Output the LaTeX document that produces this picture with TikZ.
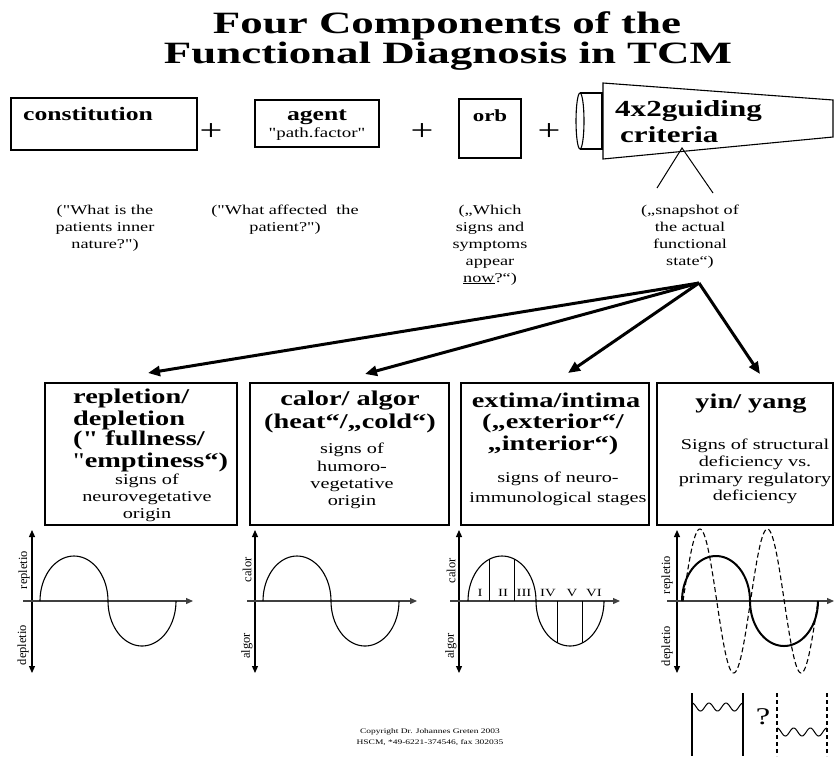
\documentclass[tikz,border=0pt]{standalone}
\usepackage{fontspec}
\setmainfont{Liberation Serif}[FakeStretch=1.35, Ligatures=TeXOff]
\newfontfamily\titlefont{Liberation Serif}[FakeStretch=1.45]
\newfontfamily\rotfont{Liberation Serif}
\usetikzlibrary{arrows.meta}
\newcommand{\fs}[2]{\fontsize{#1}{#2}\selectfont}
\newcommand{\semisine}[1]{plot[domain=0:180,samples=41] ({#1+34-34*cos(\x)},{601-45*sin(\x)}) -- plot[domain=0:180,samples=41] ({#1+68+34-34*cos(\x)},{601+45*sin(\x)})}
\begin{document}
\begin{tikzpicture}[x=1pt,y=-1pt,
  box/.style={draw, line width=1.2pt, inner sep=0pt},
  txt/.style={inner sep=0pt, anchor=base},
  hd/.style={txt, font=\bfseries\fs{21}{24}},
  bd/.style={txt, font=\fs{15}{17}},
  qt/.style={txt, font=\fs{13.5}{17}},
  plus/.style={inner sep=0pt, font=\fs{30}{30}},
  axisH/.style={line width=1.2pt, black!75, -{Triangle[length=7pt,width=6pt]}},
  axisV/.style={line width=1.2pt, {Triangle[length=7pt,width=6pt]}-{Triangle[length=7pt,width=6pt]}},
  wave/.style={line width=1.1pt},
  lab/.style={rotate=90, inner sep=0pt, font=\rotfont\fs{12.5}{12.5}},
  stage/.style={txt, font=\fs{11}{12}},
  bigarrow/.style={line width=3pt, -{Triangle[length=12pt,width=10pt]}}]
\useasboundingbox (0,0) rectangle (834,756);

% title
\node[txt, font=\titlefont\bfseries\fs{31}{31}] (t1) at (447,33) {Four Components of the};
\node[txt, font=\titlefont\bfseries\fs{31}{31}] (t2) at (448,63) {Functional Diagnosis in TCM};

% top row
\node[box, minimum width=186pt, minimum height=52pt] (const) at (104,124) {};
\node[txt, anchor=base west, font=\bfseries\fs{19}{22}] (constT) at (23,120) {constitution};
\node[plus] (p1) at (211,132) {+};
\node[box, minimum width=124pt, minimum height=47pt] (agent) at (317,123.5) {};
\node[txt, font=\bfseries\fs{19}{22}] (agentT) at (317,120) {agent};
\node[txt, font=\fs{14}{16}] (agentS) at (317,137) {"path.factor"};
\node[plus] (p2) at (422,132) {+};
\node[box, minimum width=62pt, minimum height=59pt] (orb) at (490,128.5) {};
\node[txt, font=\bfseries\fs{17}{20}] (orbT) at (490,121) {orb};
\node[plus] (p3) at (549,132) {+};

% cylinder + megaphone
\draw[line width=1.1pt] (580,121) ellipse [x radius=4pt, y radius=28pt];
\draw[line width=1.1pt] (580,93) -- (602,93) -- (602,149) -- (580,149);
\draw[line width=1.1pt] (603,83) -- (833,100) -- (833,137) -- (603,159) -- cycle;
\node[txt, anchor=base west, font=\bfseries\fs{23}{26}] (crit1) at (615,116) {4x2guiding};
\node[txt, anchor=base west, font=\bfseries\fs{23}{26}] (crit2) at (620,142) {criteria};
\coordinate (snapTop) at (682,148);
\coordinate (snapL) at (657,188);
\coordinate (snapR) at (713,193);
\draw[line width=1pt] (snapL) -- (snapTop) -- (snapR);

% questions
\node[qt] (q1a) at (105,214) {("What is the};
\node[qt] (q1b) at (105,231) {patients inner};
\node[qt] (q1c) at (105,248) {nature?")};
\node[qt] (q2a) at (285,214) {("What affected\ \ the};
\node[qt] (q2b) at (285,231) {patient?")};
\node[qt] (q3a) at (490,214) {(„Which};
\node[qt] (q3b) at (490,231) {signs and};
\node[qt] (q3c) at (490,248) {symptoms};
\node[qt] (q3d) at (490,265) {appear};
\node[qt] (q3e) at (490,282) {\underline{now}?“)};
\node[qt] (q4a) at (690,214) {(„snapshot of};
\node[qt] (q4b) at (690,231) {the actual};
\node[qt] (q4c) at (690,248) {functional};
\node[qt] (q4d) at (690,265) {state“)};

% arrows
\coordinate (hub) at (699,283);
\coordinate (a1) at (148,373);
\coordinate (a2) at (365,374);
\coordinate (a3) at (568,373);
\coordinate (a4) at (760,374);
\draw[bigarrow] (hub) -- (a1);
\draw[bigarrow] (hub) -- (a2);
\draw[bigarrow] (hub) -- (a3);
\draw[bigarrow] (hub) -- (a4);

% bottom boxes
\node[box, minimum width=192pt, minimum height=142pt] (b1) at (141,454) {};
\node[box, minimum width=199pt, minimum height=142pt] (b2) at (349.5,454) {};
\node[box, minimum width=188pt, minimum height=142pt] (b3) at (555,454) {};
\node[box, minimum width=176pt, minimum height=142pt] (b4) at (745,454) {};

\node[hd, anchor=base west] (b1a) at (73,403) {repletion/};
\node[hd, anchor=base west] (b1b) at (73,425) {depletion};
\node[hd, anchor=base west] (b1c) at (73,445) {(" fullness/};
\node[hd, anchor=base west] (b1d) at (73,467) {{\mdseries"}emptiness“)};
\node[bd] (b1e) at (147,484) {signs of};
\node[bd] (b1f) at (147,501) {neurovegetative};
\node[bd] (b1g) at (147,518) {origin};

\node[hd] (b2a) at (350,405) {calor/ algor};
\node[hd] (b2b) at (350,428) {(heat“/„cold“)};
\node[bd] (b2c) at (352,453) {signs of};
\node[bd] (b2d) at (352,471) {humoro-};
\node[bd] (b2e) at (352,488) {vegetative};
\node[bd] (b2f) at (352,505) {origin};

\node[hd] (b3a) at (556,407) {extima/intima};
\node[hd] (b3b) at (553,428) {(„exterior“/};
\node[hd] (b3c) at (553,450) {„interior“)};
\node[bd] (b3d) at (558,482) {signs of neuro-};
\node[bd] (b3e) at (558,502) {immunological stages};

\node[hd] (b4a) at (751,408) {yin/ yang};
\node[bd] (b4b) at (755,449) {Signs of structural};
\node[bd] (b4c) at (755,466) {deficiency vs.};
\node[bd] (b4d) at (755,483) {primary regulatory};
\node[bd] (b4e) at (755,500) {deficiency};

% graph 1
\draw[axisV] (32,530) -- (32,673);
\draw[axisH] (23,601) -- (193,601);
\draw[wave] \semisine{40};
\node[lab] (g1u) at (24,570) {repletio};
\node[lab] (g1d) at (23,645) {depletio};

% graph 2
\draw[axisV] (255,530) -- (255,673);
\draw[axisH] (247,601) -- (417,601);
\draw[wave] \semisine{263};
\node[lab] (g2u) at (247,570) {calor};
\node[lab] (g2d) at (247,646) {algor};

% graph 3
\draw[axisV] (459,530) -- (459,673);
\draw[axisH] (450,601) -- (620,601);
\draw[wave] \semisine{468};
\draw[line width=1pt] (489,601) -- (489,559.4);
\draw[line width=1pt] (514,601) -- (514,558.9);
\draw[line width=1pt] (557,601) -- (557,642.6);
\draw[line width=1pt] (582,601) -- (582,643.1);
\node[lab] (g3u) at (451,571) {calor};
\node[lab] (g3d) at (451,646) {algor};
\node[stage] (s1) at (480,596) {I};
\node[stage] (s2) at (503,596) {II};
\node[stage] (s3) at (524,596) {III};
\node[stage] (s4) at (548,596) {IV};
\node[stage] (s5) at (572,596) {V};
\node[stage] (s6) at (594,596) {VI};

% graph 4
\draw[axisV] (677,530) -- (677,673);
\draw[axisH] (667,601) -- (834,601);
\draw[line width=2pt] \semisine{682};
\draw[line width=1.1pt, dash pattern=on 5pt off 3pt] plot[domain=0:135, samples=120] ({683+\x}, {601-72*sin(5.3333*\x)});
\node[lab] (g4u) at (667,575) {repletio};
\node[lab] (g4d) at (667,646) {depletio};

% bottom vessels
\draw[line width=1.2pt] (692,693) -- (692,756);
\draw[line width=1.2pt] (743,693) -- (743,756);
\draw[line width=1pt] plot[domain=0:51, samples=80] ({692+\x}, {707-4*cos(21.176*\x)});
\node[inner sep=0pt, font=\fs{24}{24}] (qm) at (763,717) {?};
\draw[line width=1.2pt, dash pattern=on 4pt off 3pt] (777,693) -- (777,756);
\draw[line width=1.2pt, dash pattern=on 4pt off 3pt] (827,693) -- (827,756);
\draw[line width=1pt] plot[domain=0:50, samples=80] ({777+\x}, {732-4*cos(21.6*\x)});

% copyright
\node[txt, font=\fs{7}{9}] (c1) at (430,733) {Copyright Dr. Johannes Greten 2003};
\node[txt, font=\fs{7}{9}] (c2) at (430,744) {HSCM, *49-6221-374546, fax 302035};
\end{tikzpicture}
\end{document}
